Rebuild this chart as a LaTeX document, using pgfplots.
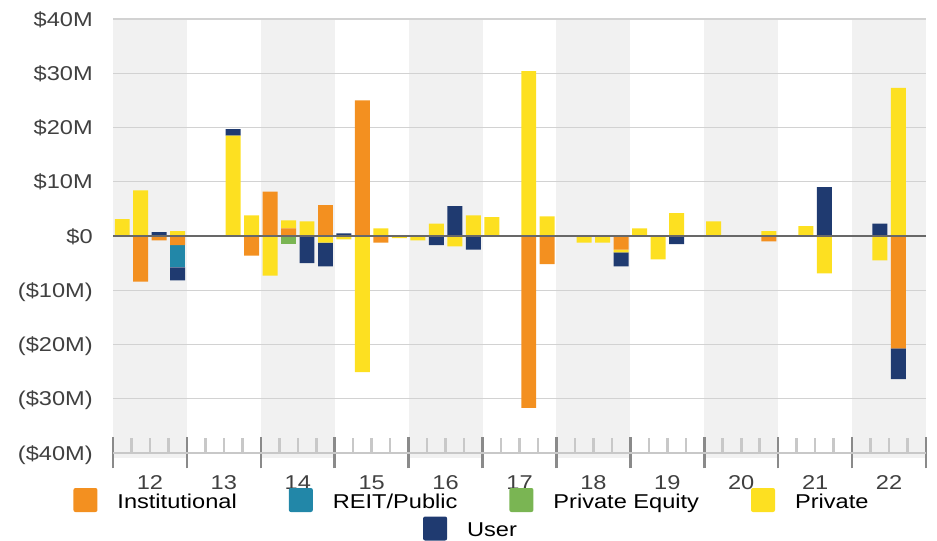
\documentclass[border=0pt]{standalone}
\usepackage{fontspec}
\setmainfont{Liberation Sans}[FakeStretch=1.18]
\usepackage{pgfplots}
\usepackage{pgfplotstable}
\pgfplotsset{compat=1.18}

\definecolor{cInst}{HTML}{F39020}
\definecolor{cReit}{HTML}{2287A8}
\definecolor{cPE}{HTML}{7AB553}
\definecolor{cPriv}{HTML}{FDE021}
\definecolor{cUser}{HTML}{1F3A70}
\definecolor{band}{HTML}{F1F1F1}
\definecolor{gridc}{HTML}{D2D2D2}
\definecolor{zeroc}{HTML}{686868}
\definecolor{majt}{HTML}{8A8A8A}
\definecolor{mint}{HTML}{C8C8C8}
\definecolor{labc}{HTML}{404040}

% x = quarter slot (4 per year, years 12..22), values in $M
% positive parts stack upward, negative parts stack downward
\pgfplotstableread{
x    inst  reit  pe    priv  user  ninst  nreit  npe   npriv  nuser
0.5  0     0     0     3.1   0     0      0      0     0      0
1.5  0     0     0     8.4   0     -8.4   0      0     0      0
2.5  0     0     0     0     0.7   -0.8   0      0     0      0
3.5  0     0     0     0.9   0     -1.7   -4.1   0     0      -2.4
4.5  0     0     0     0     0     0      0      0     0      0
5.5  0     0     0     0     0     0      0      0     0      0
6.5  0     0     0     18.5  1.2   0      0      0     0      0
7.5  0     0     0     3.8   0     -3.6   0      0     0      0
8.5  8.2   0     0     0     0     0      0      0     -7.3   0
9.5  1.4   0     0     1.5   0     0      0      -1.5  0      0
10.5 0     0     0     2.7   0     0      0      0     0      -5.0
11.5 5.7   0     0     0     0     0      0      0     -1.2   -4.4
12.5 0     0     0     0     0.5   0      0      0     -0.6   0
13.5 25.0  0     0     0     0     0      0      0     -25.1  0
14.5 0     0     0     1.4   0     -1.2   0      0     0      0
15.5 0     0     0     0     0     0      0      0     -0.4   0
16.5 0     0     0     0     0     0      0      0     -0.8   0
17.5 0     0     0     2.3   0     0      0      0     0      -1.7
18.5 0     0     0     0     5.5   0      0      0     -1.9   0
19.5 0     0     0     3.8   0     0      0      0     0      -2.5
20.5 0     0     0     3.5   0     0      0      0     0      0
21.5 0     0     0     0     0     0      0      0     0      0
22.5 0     0     0     30.4  0     -31.7  0      0     0      0
23.5 0     0     0     3.6   0     -5.2   0      0     0      0
24.5 0     0     0     0     0     0      0      0     0      0
25.5 0     0     0     0     0     0      0      0     -1.2   0
26.5 0     0     0     0     0     0      0      0     -1.2   0
27.5 0     0     0     0     0     -2.5   0      0     -0.5   -2.6
28.5 0     0     0     1.4   0     0      0      0     0      0
29.5 0     0     0     0     0     0      0      0     -4.3   0
30.5 0     0     0     4.2   0     0      0      0     0      -1.5
31.5 0     0     0     0     0     0      0      0     0      0
32.5 0     0     0     2.7   0     0      0      0     0      0
33.5 0     0     0     0     0     0      0      0     0      0
34.5 0     0     0     0     0     0      0      0     0      0
35.5 0     0     0     0.9   0     -1.0   0      0     0      0
36.5 0     0     0     0     0     0      0      0     0      0
37.5 0     0     0     1.8   0     0      0      0     0      0
38.5 0     0     0     0     9.0   0      0      0     -6.9   0
39.5 0     0     0     0     0     0      0      0     0      0
40.5 0     0     0     0     0     0      0      0     0      0
41.5 0     0     0     0     2.3   0      0      0     -4.5   0
42.5 0     0     0     27.3  0     -20.7  0      0     0      -5.7
43.5 0     0     0     0     0     0      0      0     0      0
}\flows

\pgfplotsset{
  base/.style={scale only axis, width=609.75pt, height=325.5pt,
    xmin=0, xmax=44, ymin=-40, ymax=40},
  bars/.style={ybar stacked, bar width=0.81},
  sq/.style={legend image code/.code={\fill[##1,rounded corners=1.5pt] (0pt,-9pt) rectangle (18pt,9pt);}},
  leg/.style={legend style={draw=none, fill=none, anchor=center,
      /tikz/every even column/.append style={column sep=39pt},
      /tikz/every odd column/.append style={column sep=15pt},
      nodes={inner sep=0pt, text height=12pt, text depth=0pt}},
    legend cell align=left},
}

\begin{document}
\begin{tikzpicture}[font=\fontsize{15}{18}\selectfont]

% alternating year bands
\begin{axis}[base, hide axis, clip=false]
\addplot[draw=none, forget plot] coordinates {(0,0)};
\fill[band] (axis cs:0,-40.9) rectangle (axis cs:4,40.2);
\fill[band] (axis cs:8,-40.9) rectangle (axis cs:12,40.2);
\fill[band] (axis cs:16,-40.9) rectangle (axis cs:20,40.2);
\fill[band] (axis cs:24,-40.9) rectangle (axis cs:28,40.2);
\fill[band] (axis cs:32,-40.9) rectangle (axis cs:36,40.2);
\fill[band] (axis cs:40,-40.9) rectangle (axis cs:44,40.2);
\end{axis}

% grid, y labels, negative stacks
\begin{axis}[base, bars, hide x axis, axis y line*=left,
  y axis line style={draw=none}, ytick style={draw=none},
  ytick={-40,-30,...,40},
  yticklabels={{(\$40M)},{(\$30M)},{(\$20M)},{(\$10M)},{\$0},{\$10M},{\$20M},{\$30M},{\$40M}},
  yticklabel style={labc, anchor=east, inner sep=0pt, xshift=-15pt, text height=10.7pt, text depth=0pt},
  ymajorgrids, grid style={gridc, line width=1pt}]
\addplot[fill=cInst, draw=none] table[x=x, y=ninst] {\flows};
\addplot[fill=cReit, draw=none] table[x=x, y=nreit] {\flows};
\addplot[fill=cPE, draw=none] table[x=x, y=npe] {\flows};
\addplot[fill=cPriv, draw=none] table[x=x, y=npriv] {\flows};
\addplot[fill=cUser, draw=none] table[x=x, y=nuser] {\flows};
\end{axis}

% x axis, ticks, positive stacks
\begin{axis}[base, bars, hide y axis, axis x line*=bottom,
  x axis line style={mint, line width=1pt},
  xtick={0,4,...,44}, minor x tick num=3,
  x tick label as interval,
  xticklabels={12,13,14,15,16,17,18,19,20,21,22},
  tick align=center, major tick length=23.25pt, minor tick length=11.25pt,
  major x tick style={majt, line width=1.9pt},
  minor x tick style={mint, line width=1.9pt, yshift=5.625pt},
  xticklabel style={labc, anchor=north, inner sep=0pt, yshift=-5pt, text height=10.7pt, text depth=0pt}]
\addplot[fill=cInst, draw=none] table[x=x, y=inst] {\flows};
\addplot[fill=cReit, draw=none] table[x=x, y=reit] {\flows};
\addplot[fill=cPE, draw=none] table[x=x, y=pe] {\flows};
\addplot[fill=cPriv, draw=none] table[x=x, y=priv] {\flows};
\addplot[fill=cUser, draw=none] table[x=x, y=user] {\flows};
\end{axis}

% zero line and legend (first row)
\begin{axis}[base, hide axis, sq, leg, legend columns=4,
  legend style={at={(0.4403,-0.1083)}}]
\addplot[zeroc, line width=1.9pt, forget plot] coordinates {(0,0) (44,0)};
\addlegendimage{fill=cInst, draw=none}
\addlegendentry{Institutional}
\addlegendimage{fill=cReit, draw=none}
\addlegendentry{REIT/Public}
\addlegendimage{fill=cPE, draw=none}
\addlegendentry{Private Equity}
\addlegendimage{fill=cPriv, draw=none}
\addlegendentry{Private}
\end{axis}

% legend (second row)
\begin{axis}[base, hide axis, sq, leg,
  legend style={at={(0.4391,-0.1740)}}]
\addplot[draw=none, forget plot] coordinates {(0,0)};
\addlegendimage{fill=cUser, draw=none}
\addlegendentry{User}
\end{axis}

\pgfresetboundingbox
\path[use as bounding box] (-84.75pt,-66pt) rectangle (618pt,339.75pt);
\end{tikzpicture}
\end{document}
